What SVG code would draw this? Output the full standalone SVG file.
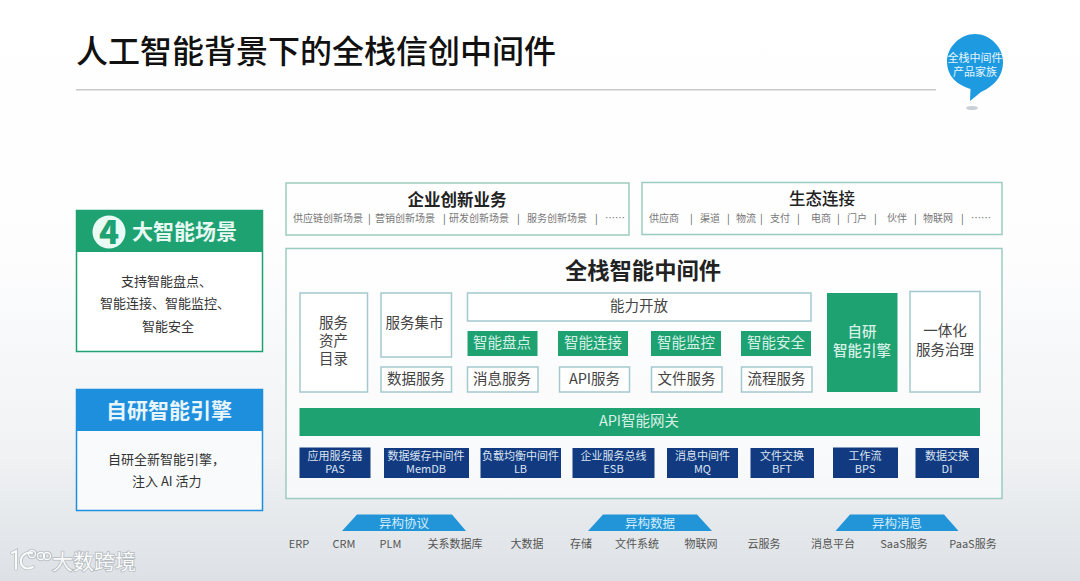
<svg xmlns="http://www.w3.org/2000/svg" width="1080" height="581" viewBox="0 0 1080 581">
<style>
text,tspan{font-family:"Noto Sans CJK SC","Noto Sans",sans-serif;dominant-baseline:central}
text{fill:#333}
.m{text-anchor:middle}
.box{fill:#fff;fill-opacity:.85;stroke:#a3c9ce;stroke-width:1.5}
.outer{fill:#fff;fill-opacity:.6;stroke:#9ccbbf;stroke-width:1.5}
.green{fill:#1fa272}
.navy{fill:#123a80}
.trap{fill:#2295d8}
.t14{font-size:14.5px;fill:#444}
.w14{font-size:14.5px;fill:#d8f0e6}
.sub{font-size:10px;fill:#777}
.sep{font-size:10px;fill:#555}
.nv{font-size:11px;fill:#dbe5f3}
.bot{font-size:11px;fill:#555}
.tr{font-size:12.5px;fill:#d4ecfa}
.card{font-size:13px;fill:#333}
</style>
<defs>
<linearGradient id="bg" x1="0" y1="0" x2="0" y2="1">
<stop offset="0" stop-color="#fff"/><stop offset=".45" stop-color="#fdfdfe"/><stop offset=".78" stop-color="#f0f2f4"/><stop offset="1" stop-color="#dde1e5"/>
</linearGradient>
</defs>
<rect width="1080" height="581" fill="url(#bg)"/>

<g id="title">
<text x="76" y="49" style="font-size:32px;fill:#111;font-weight:500">人工智能背景下的全栈信创中间件</text>
<rect x="76" y="89" width="860" height="1.5" fill="#c8c8c8"/>
</g>

<g id="bubble">
<path d="M975 34C990 34 1003 47 1003 62C1003 78 992 87 981 92L970 101L970.500 89C957 85 947 76 947 62C947 47 960 34 975 34Z" fill="#1e9be0"/>
<ellipse cx="972" cy="108" rx="6" ry="2" fill="#c9d0d6"/>
<text class="m" style="font-size:11px;fill:#e6f5fd"><tspan x="975" y="57">全栈中间件</tspan><tspan x="975" y="70.500">产品家族</tspan></text>
</g>

<g id="card-scenes">
<rect x="76.500" y="210.500" width="186" height="141" fill="#fff" stroke="#1fa272" stroke-width="1.500"/>
<rect x="76" y="210" width="187" height="42" class="green"/>
<circle cx="109" cy="232" r="16.500" fill="#eafaf4"/>
<text class="m" x="109" y="230" style="font-size:33px;font-weight:900;fill:#1fa272">4</text>
<text x="132" y="230" style="font-size:21px;font-weight:700;fill:#e8f8f2">大智能场景</text>
<text class="card"><tspan x="121" y="279.500">支持智能盘点、</tspan><tspan x="100" y="301.500">智能连接、智能监控、</tspan><tspan x="142" y="324.500">智能安全</tspan></text>
</g>

<g id="card-engine">
<rect x="76.500" y="389.500" width="186" height="121" fill="#f8fafb" stroke="#1e8fdc" stroke-width="1.500"/>
<rect x="76" y="389" width="187" height="42" fill="#1e8fdc"/>
<text class="m" x="169" y="409" style="font-size:21px;font-weight:700;fill:#e8f5fd">自研智能引擎</text>
<text class="card"><tspan x="108" y="457.500">自研全新智能引擎，</tspan><tspan x="132" y="479.500">注入 AI 活力</tspan></text>
</g>

<g id="enterprise">
<rect class="outer" x="286" y="183" width="343" height="52"/>
<text class="m" x="457" y="198.500" style="font-size:16.500px;font-weight:600;fill:#222">企业创新业务</text>
<text class="sub" x="293" y="217.500">供应链创新场景</text><text class="sep" x="368" y="217.500">|</text>
<text class="sub" x="375" y="217.500">营销创新场景</text><text class="sep" x="443" y="217.500">|</text>
<text class="sub" x="449" y="217.500">研发创新场景</text><text class="sep" x="517" y="217.500">|</text>
<text class="sub" x="527" y="217.500">服务创新场景</text><text class="sep" x="595" y="217.500">|</text>
<text class="sub" x="605" y="217.500">……</text>
</g>

<g id="ecosystem">
<rect class="outer" x="642" y="182.500" width="360" height="52"/>
<text class="m" x="822" y="197.500" style="font-size:16.500px;font-weight:500;fill:#222">生态连接</text>
<text class="sub" x="649" y="217.500">供应商</text><text class="sep" x="690" y="217.500">|</text>
<text class="sub" x="700" y="217.500">渠道</text><text class="sep" x="727" y="217.500">|</text>
<text class="sub" x="736" y="217.500">物流</text><text class="sep" x="760" y="217.500">|</text>
<text class="sub" x="770" y="217.500">支付</text><text class="sep" x="797" y="217.500">|</text>
<text class="sub" x="811" y="217.500">电商</text><text class="sep" x="837" y="217.500">|</text>
<text class="sub" x="847" y="217.500">门户</text><text class="sep" x="874" y="217.500">|</text>
<text class="sub" x="887" y="217.500">伙伴</text><text class="sep" x="914" y="217.500">|</text>
<text class="sub" x="923" y="217.500">物联网</text><text class="sep" x="961" y="217.500">|</text>
<text class="sub" x="971" y="217.500">……</text>
</g>

<g id="middleware">
<rect class="outer" x="286" y="248.500" width="716" height="250"/>
<text class="m" x="643" y="269" style="font-size:22.300px;font-weight:600;fill:#222">全栈智能中间件</text>
</g>

<g id="asset"><rect class="box" x="300" y="293" width="67.500" height="99"/><text class="t14 m"><tspan x="333.500" y="321">服务</tspan><tspan x="333.500" y="339">资产</tspan><tspan x="333.500" y="357">目录</tspan></text></g>
<g id="market"><rect class="box" x="381" y="293" width="70.500" height="64"/><text class="t14 m" x="414.500" y="321">服务集市</text></g>
<g id="data-service"><rect class="box" x="381" y="367" width="70.500" height="25"/><text class="t14 m" x="416" y="377.500">数据服务</text></g>
<g id="open"><rect class="box" x="467.500" y="293" width="343.500" height="28"/><text class="t14 m" x="639" y="304">能力开放</text></g>

<g id="s1"><rect class="green" x="467.500" y="331" width="70" height="25"/><text class="w14 m" x="502" y="341">智能盘点</text></g>
<g id="s2"><rect class="green" x="558" y="331" width="70" height="25"/><text class="w14 m" x="593" y="341">智能连接</text></g>
<g id="s3"><rect class="green" x="651" y="331" width="70" height="25"/><text class="w14 m" x="686" y="341">智能监控</text></g>
<g id="s4"><rect class="green" x="741" y="331" width="70" height="25"/><text class="w14 m" x="776" y="341">智能安全</text></g>

<g id="msg"><rect class="box" x="467.500" y="367" width="70.500" height="25"/><text class="t14 m" x="502" y="377.500">消息服务</text></g>
<g id="api"><rect class="box" x="559.500" y="367" width="70" height="25"/><text class="t14 m" x="594.500" y="377.500">API服务</text></g>
<g id="file"><rect class="box" x="651.500" y="367" width="70.500" height="25"/><text class="t14 m" x="686.500" y="377.500">文件服务</text></g>
<g id="flow"><rect class="box" x="741.500" y="367" width="70.500" height="25"/><text class="t14 m" x="776.500" y="377.500">流程服务</text></g>

<g id="engine"><rect class="green" x="827" y="293" width="70.500" height="99"/><text class="w14 m" style="font-weight:500"><tspan x="862" y="330">自研</tspan><tspan x="862" y="349">智能引擎</tspan></text></g>
<g id="governance"><rect class="box" x="910" y="291.500" width="70" height="100.500"/><text class="t14 m"><tspan x="945" y="329">一体化</tspan><tspan x="945" y="348">服务治理</tspan></text></g>

<g id="gateway"><rect class="green" x="299.500" y="408" width="680.500" height="28"/><text class="w14 m" x="639" y="419.500">API智能网关</text></g>

<g id="pas"><rect class="navy" x="299.500" y="447.500" width="71" height="30.500"/><text class="nv m"><tspan x="335" y="455">应用服务器</tspan><tspan x="335" y="468">PAS</tspan></text></g>
<g id="memdb"><rect class="navy" x="384" y="448" width="85" height="30"/><text class="nv m"><tspan x="426" y="455">数据缓存中间件</tspan><tspan x="426" y="468">MemDB</tspan></text></g>
<g id="lb"><rect class="navy" x="480.500" y="448" width="80.500" height="30"/><text class="nv m"><tspan x="520.500" y="455">负载均衡中间件</tspan><tspan x="520.500" y="468">LB</tspan></text></g>
<g id="esb"><rect class="navy" x="572.500" y="448" width="82" height="30"/><text class="nv m"><tspan x="613.500" y="455">企业服务总线</tspan><tspan x="613.500" y="468">ESB</tspan></text></g>
<g id="mq"><rect class="navy" x="667" y="448" width="71" height="30"/><text class="nv m"><tspan x="702.500" y="455">消息中间件</tspan><tspan x="702.500" y="468">MQ</tspan></text></g>
<g id="bft"><rect class="navy" x="750.500" y="448" width="63.500" height="30"/><text class="nv m"><tspan x="782" y="455">文件交换</tspan><tspan x="782" y="468">BFT</tspan></text></g>
<g id="bps"><rect class="navy" x="833" y="447.500" width="65" height="30.500"/><text class="nv m"><tspan x="865" y="455">工作流</tspan><tspan x="865" y="468">BPS</tspan></text></g>
<g id="di"><rect class="navy" x="915.500" y="448" width="63.500" height="30"/><text class="nv m"><tspan x="947" y="455">数据交换</tspan><tspan x="947" y="468">DI</tspan></text></g>

<g id="proto"><polygon class="trap" points="357,514.500 452,514.500 466,531 342,531"/><text class="tr m" x="404" y="522">异构协议</text></g>
<g id="hetero-data"><polygon class="trap" points="603,514.500 697,514.500 712,531 588,531"/><text class="tr m" x="650" y="522">异构数据</text></g>
<g id="hetero-msg"><polygon class="trap" points="850,514.500 944,514.500 958.500,531 835.500,531"/><text class="tr m" x="897" y="522">异构消息</text></g>

<g id="sources">
<text class="bot m" x="299" y="543">ERP</text>
<text class="bot m" x="344" y="543">CRM</text>
<text class="bot m" x="390.500" y="543">PLM</text>
<text class="bot m" x="455" y="543">关系数据库</text>
<text class="bot m" x="527" y="543">大数据</text>
<text class="bot m" x="581" y="543">存储</text>
<text class="bot m" x="637" y="543">文件系统</text>
<text class="bot m" x="701" y="543">物联网</text>
<text class="bot m" x="764" y="543">云服务</text>
<text class="bot m" x="833" y="543">消息平台</text>
<text class="bot m" x="904" y="543">SaaS服务</text>
<text class="bot m" x="973" y="543">PaaS服务</text>
</g>

<g id="watermark">
<g fill="none" stroke="#aeb3b8" stroke-width="3.600" stroke-linecap="round" opacity=".7">
<path d="M12 553L16 551L16 569M32 553C24 552 20 557 21 563C22 568 27 570 33 567"/>
<circle cx="32" cy="554" r="3.500"/><circle cx="41" cy="556" r="3.500"/><circle cx="47" cy="556" r="3.500"/>
</g>
<g fill="none" stroke="#fafbfb" stroke-width="2" stroke-linecap="round">
<path d="M12 553L16 551L16 569M32 553C24 552 20 557 21 563C22 568 27 570 33 567"/>
<circle cx="32" cy="554" r="3.500" stroke-width="1.300"/><circle cx="41" cy="556" r="3.500" stroke-width="1.300"/><circle cx="47" cy="556" r="3.500" stroke-width="1.300"/>
</g>
<text x="52" y="560" style="font-size:21px;fill:#fafbfb;stroke:#a5abb0;stroke-width:1.6px;paint-order:stroke;stroke-opacity:.75">大数跨境</text>
</g>
</svg>
